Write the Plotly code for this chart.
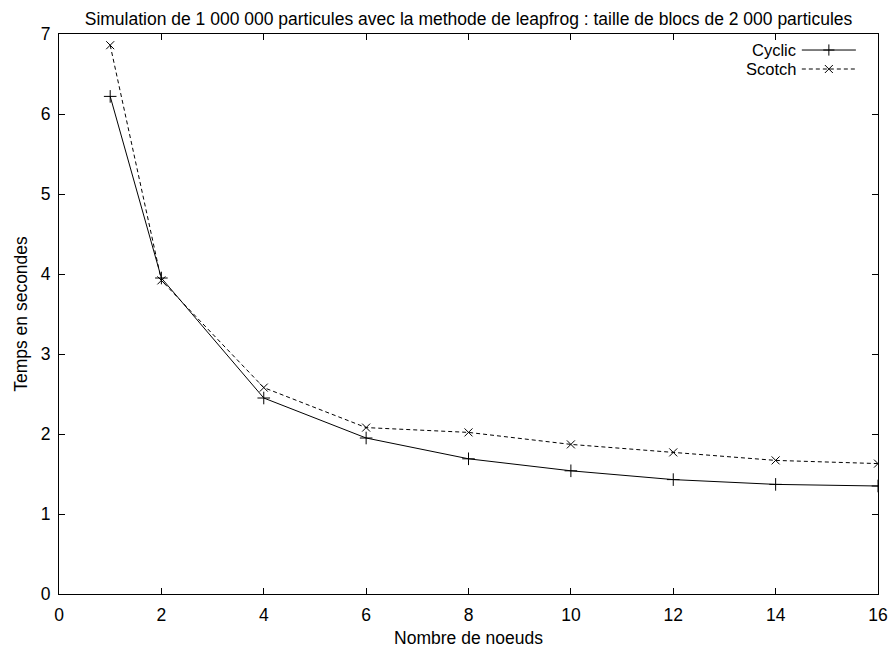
import plotly.graph_objects as go

# nombre de noeuds
noeuds = [1, 2, 4, 6, 8, 10, 12, 14, 16]
cyclic = [6.22, 3.95, 2.45, 1.95, 1.69, 1.54, 1.43, 1.37, 1.35]
scotch = [6.86, 3.92, 2.58, 2.08, 2.02, 1.87, 1.77, 1.67, 1.63]

legend_names = ["Cyclic", "Scotch"]
legend_symbols = ["cross-thin", "x-thin"]
legend_dash = ["solid", "4px,3px"]

FONT = "Liberation Sans, Arial, sans-serif"
ft = dict(size=17.5, color="black", family=FONT)
ft_key = dict(size=16.5, color="black", family=FONT)

fig = go.Figure()
fig.add_scatter(x=noeuds, y=cyclic, mode="lines+markers", name="Cyclic",
                line=dict(color="black", width=1),
                marker=dict(symbol="cross-thin", size=9, line=dict(color="black", width=1)))
fig.add_scatter(x=noeuds, y=scotch, mode="lines+markers", name="Scotch",
                line=dict(color="black", width=1, dash="4px,3px"),
                marker=dict(symbol="x-thin", size=8, line=dict(color="black", width=1)))

# gnuplot-style key: text on the left, sample on the right (overlay axes 0..1)
key_y = [0.9714, 0.9375]
for i, name in enumerate(legend_names):
    fig.add_scatter(x=[0.907, 0.973], y=[key_y[i], key_y[i]], mode="lines", xaxis="x2", yaxis="y2",
                    line=dict(color="black", width=1, dash=legend_dash[i]), hoverinfo="skip")
    fig.add_scatter(x=[0.940], y=[key_y[i]], mode="markers", xaxis="x2", yaxis="y2",
                    marker=dict(symbol=legend_symbols[i], size=8, line=dict(color="black", width=1)),
                    hoverinfo="skip")
    fig.add_annotation(x=0.901, y=key_y[i], xref="x2", yref="y2", text=name, showarrow=False,
                       xanchor="right", yanchor="middle", font=ft_key, borderpad=0)

axis_common = dict(showgrid=False, zeroline=False, showline=True, linecolor="black", linewidth=1,
                   mirror="ticks", ticks="inside", ticklen=6, tickcolor="black",
                   tickfont=ft, automargin=False)

fig.update_layout(
    width=890, height=648,
    margin=dict(l=59, r=12, t=34, b=54),
    plot_bgcolor="white", paper_bgcolor="white",
    showlegend=False,
    font=ft,
    title=dict(text="Simulation de 1 000 000 particules avec la methode de leapfrog : taille de blocs de 2 000 particules",
               x=0.5, xref="paper", xanchor="center", y=0.971, yanchor="middle", font=ft),
    xaxis=dict(range=[0, 16], tickvals=list(range(0, 17, 2)), ticklabelstandoff=5,
               title=dict(text="Nombre de noeuds", standoff=8, font=ft), **axis_common),
    yaxis=dict(range=[0, 7], tickvals=list(range(0, 8)), ticklabelstandoff=4,
               title=dict(text="Temps en secondes", standoff=8, font=ft), **axis_common),
    xaxis2=dict(range=[0, 1], overlaying="x", visible=False),
    yaxis2=dict(range=[0, 1], overlaying="y", visible=False),
)

fig.write_html("out.html", config={"displayModeBar": False},
               post_script="document.body.style.margin='0';")
